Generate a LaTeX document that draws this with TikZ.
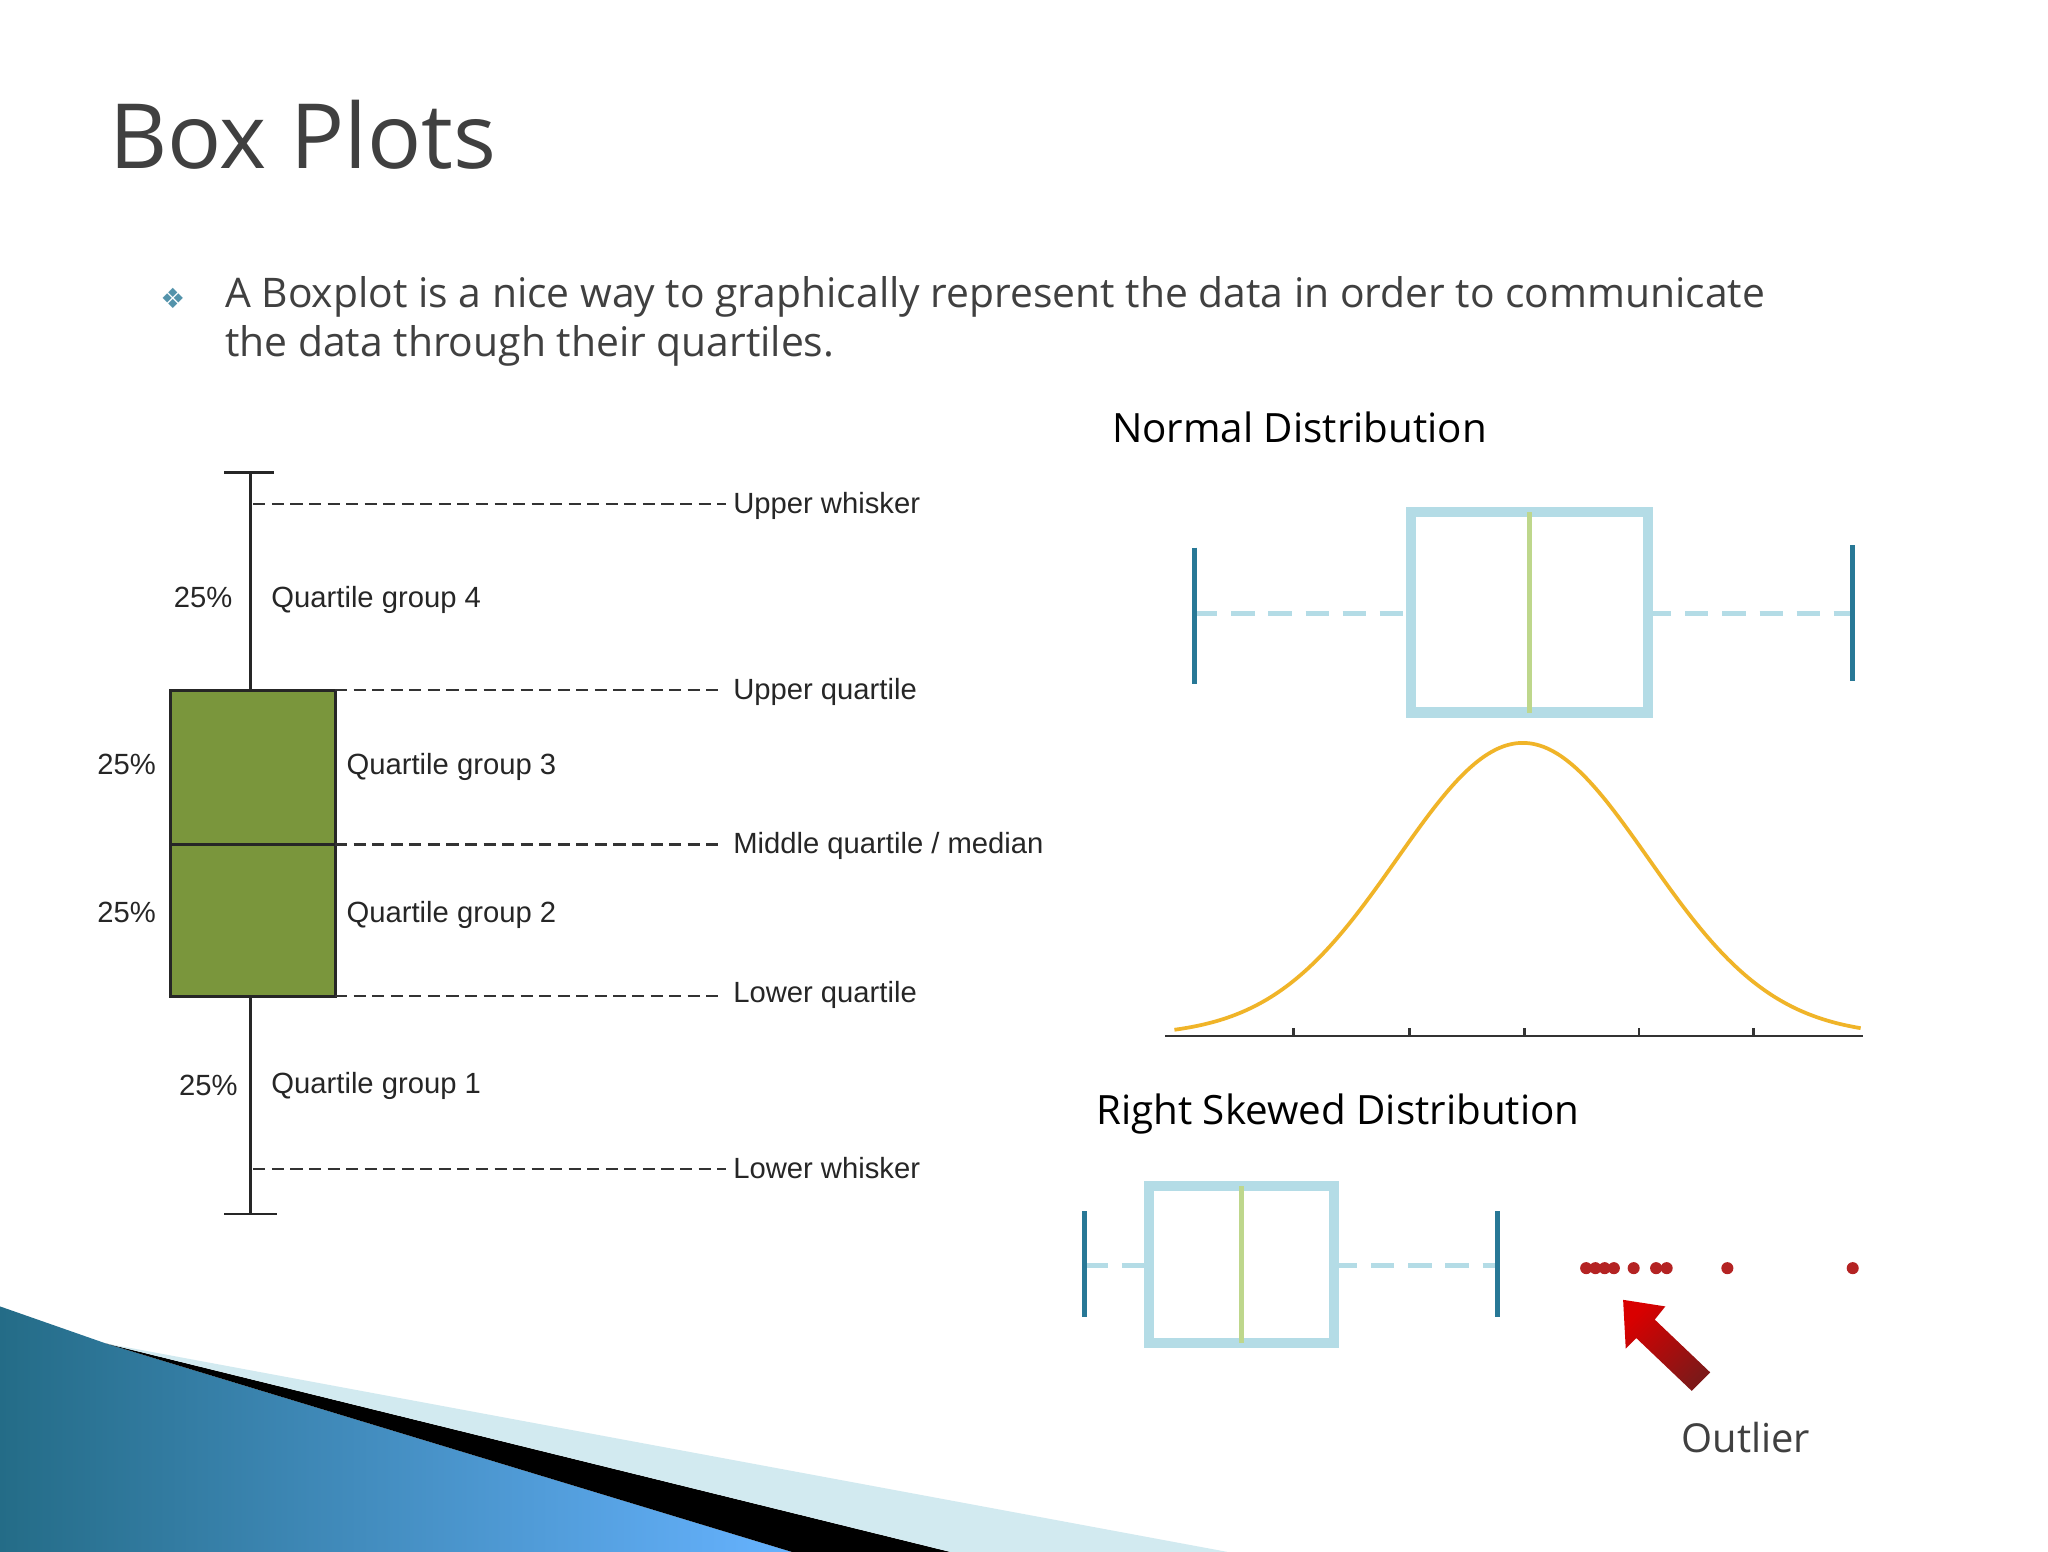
\documentclass[tikz,border=0pt]{standalone}
\usepackage{fontspec}
\setmainfont{Open Sans}
\newfontfamily\arialf{Liberation Sans}
\newfontfamily\djv{DejaVu Sans}
\usetikzlibrary{shadings}
\definecolor{olive}{RGB}{122,150,60}
\definecolor{lblue}{RGB}{180,220,230}
\definecolor{tealc}{RGB}{40,120,150}
\definecolor{lgreen}{RGB}{190,215,140}
\definecolor{orangec}{RGB}{240,180,40}
\definecolor{redc}{RGB}{180,35,35}
\definecolor{titleg}{RGB}{64,64,64}
\tikzset{
  lab/.style={font=\arialf\fontsize{6.3pt}{7pt}\selectfont, anchor=base west, inner sep=0pt, text=black!85},
  dsh/.style={dashed, dash pattern=on 2.6pt off 1.4pt, black!80, line width=0.5pt},
  head/.style={font=\fontsize{8.7pt}{10pt}\selectfont, anchor=base west, inner sep=0pt},
  btxt/.style={anchor=base west, inner sep=0pt, text=titleg, font=\fontsize{8.8pt}{10pt}\selectfont},
  lbox/.style={draw=lblue, line width=2.2pt},
  wdash/.style={draw=lblue, line width=1pt, dash pattern=on 5pt off 3pt},
  wcap/.style={draw=tealc, line width=1pt},
  odot/.style={circle, fill=redc, inner sep=0pt, minimum size=2.6pt}
}
\begin{document}
\begin{tikzpicture}[x=0.1mm,y=-0.1mm]
\useasboundingbox (0,0) rectangle (1552,1176);
\fill[white] (0,0) rectangle (1552,1176);
% decoration
\shade[left color=tealc!90!black, right color=cyan!50!blue!60] (0,990) -- (80,1018) -- (600,1176) -- (0,1176) -- cycle;
\fill[black] (80,1018) -- (720,1176) -- (600,1176) -- cycle;
\fill[lblue!60] (80,1018) -- (930,1176) -- (720,1176) -- cycle;
% title
\node[anchor=base west, inner sep=0pt, text=titleg, font=\fontsize{19.4pt}{22pt}\selectfont] (title) at (82,128) {Box Plots};
\node[text=tealc!80, font=\djv\fontsize{6pt}{7pt}\selectfont, inner sep=0pt] (bul) at (131,226) {❖};
\node[btxt] (txt1) at (170,233) {A Boxplot is a nice way to graphically represent the data in order to communicate};
\node[btxt] (txt2) at (170,270) {the data through their quartiles.};
% left boxplot
\draw[black!85, line width=0.6pt] (190,358) -- (190,523) (190,755) -- (190,920) (170,358) -- (208,358) (170,920) -- (210,920);
\fill[olive] (129,523) rectangle (254,755);
\draw[black!85, line width=0.7pt] (129,523) rectangle (254,755) (129,640) -- (254,640);
\draw[dsh] (192,382) -- (550,382);
\draw[dsh] (254,523) -- (548,523);
\draw[dsh] (254,640) -- (548,640);
\draw[dsh] (254,755) -- (548,755);
\draw[dsh] (192,886) -- (550,886);
\node[lab] (l1) at (555,389) {Upper whisker};
\node[lab] (l2) at (555,530) {Upper quartile};
\node[lab] (l3) at (555,647) {Middle quartile / median};
\node[lab] (l4) at (555,760) {Lower quartile};
\node[lab] (l5) at (555,893) {Lower whisker};
\node[lab] (p4) at (131,460) {25\%};
\node[lab] (p3) at (73,587) {25\%};
\node[lab] (p2) at (73,699) {25\%};
\node[lab] (p1) at (135,830) {25\%};
\node[lab] (q4) at (205,460) {Quartile group 4};
\node[lab] (q3) at (262,587) {Quartile group 3};
\node[lab] (q2) at (262,699) {Quartile group 2};
\node[lab] (q1) at (205,829) {Quartile group 1};
% normal distribution
\node[head] (h1) at (842,335) {Normal Distribution};
\draw[wdash] (905,465) -- (1069,465) (1249,465) -- (1404,465);
\draw[lbox] (1069,388) rectangle (1249,540);
\draw[lgreen, line width=1pt] (1159,388) -- (1159,540);
\draw[wcap] (905,415) -- (905,518) (1404,413) -- (1404,516);
\draw[black!80, line width=0.6pt] (883,785) -- (1412,785);
\foreach \t in {980,1068,1155,1242,1329} \draw[black!80, line width=0.6pt] (\t,785) -- (\t,779);
\draw[orangec, line width=0.8pt, domain=890:1410, samples=120, smooth] plot (\x,{785-222*exp(-((\x-1154)/95)^2/2)});
% skewed
\node[head] (h2) at (830,852) {Right Skewed Distribution};
\draw[wdash] (822,959) -- (871,959) (1011,959) -- (1135,959);
\draw[lbox] (871,899) rectangle (1011,1018);
\draw[lgreen, line width=1pt] (941,899) -- (941,1018);
\draw[wcap] (822,918) -- (822,998) (1135,918) -- (1135,998);
\foreach \d in {1202,1209,1216,1223,1238,1255,1263,1309,1404} \node[odot] at (\d,961) {};
% arrow
\shade[top color=red!85!black, bottom color=redc!70!black, shading angle=45]
  (1230,985) -- (1262,990) -- (1254,1000) -- (1296,1040) -- (1282,1054) -- (1240,1014) -- (1232,1022) -- cycle;
\node[font=\fontsize{8.6pt}{10pt}\selectfont, text=titleg, anchor=base, inner sep=0pt] (out) at (1323,1101) {Outlier};
\end{tikzpicture}
\end{document}
